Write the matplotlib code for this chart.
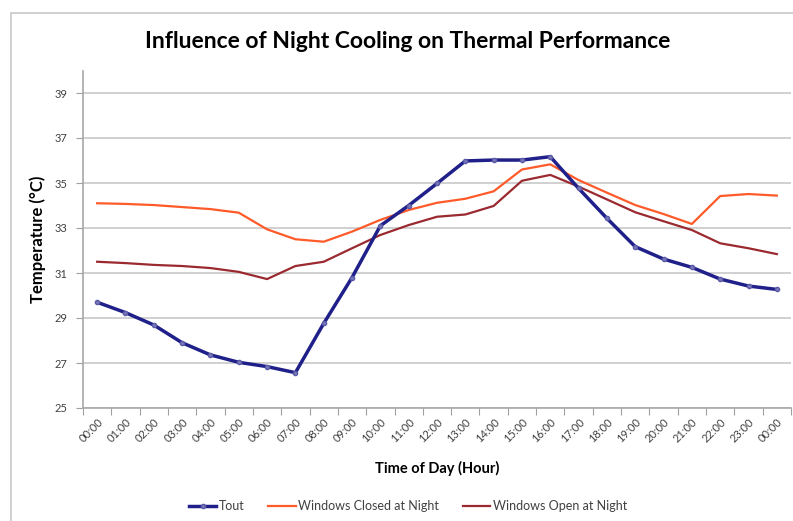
import matplotlib.pyplot as plt
import numpy as np
from matplotlib.patches import Rectangle

plt.rcParams['font.family'] = ['Lato', 'DejaVu Sans']

hours = ['00:00', '01:00', '02:00', '03:00', '04:00', '05:00', '06:00', '07:00',
         '08:00', '09:00', '10:00', '11:00', '12:00', '13:00', '14:00', '15:00',
         '16:00', '17:00', '18:00', '19:00', '20:00', '21:00', '22:00', '23:00', '00:00']

tout = [29.7, 29.24, 28.69, 27.9, 27.36, 27.03, 26.84, 26.57, 28.76, 30.8, 33.1,
        34.0, 34.98, 35.98, 36.02, 36.02, 36.17, 34.76, 33.43, 32.17, 31.62, 31.25,
        30.73, 30.42, 30.27]
win_closed = [34.1, 34.07, 34.02, 33.93, 33.84, 33.68, 32.94, 32.5, 32.39, 32.84,
              33.36, 33.8, 34.12, 34.3, 34.63, 35.6, 35.83, 35.13, 34.57, 34.02,
              33.62, 33.18, 34.42, 34.51, 34.44]
win_open = [31.5, 31.44, 31.36, 31.31, 31.22, 31.05, 30.73, 31.31, 31.5, 32.1,
            32.69, 33.13, 33.5, 33.6, 33.98, 35.1, 35.36, 34.84, 34.27, 33.7,
            33.3, 32.91, 32.32, 32.1, 31.84]

fig = plt.figure(figsize=(7.93, 5.21), dpi=100)
# chart area border (left/top visible)
fig.patches.append(Rectangle((11 / 793, -0.1), 1.2, 1 - 13 / 521 + 0.1,
                             transform=fig.transFigure, fill=False,
                             edgecolor='#c8c8c8', linewidth=1.2))

ax = fig.add_axes([83 / 793, 1 - 408 / 521, (791 - 83) / 793, (408 - 70.5) / 521])

x = np.arange(len(hours))
ax.plot(x, tout, color='#20208a', linewidth=2.5, marker='o', markersize=3,
        markerfacecolor='#7a7ab8', markeredgecolor='#5a5aa8', label='Tout', zorder=4)
ax.plot(x, win_closed, color='#ff5a2a', linewidth=1.6, label='Windows Closed at Night', zorder=3)
ax.plot(x, win_open, color='#9a2a30', linewidth=1.6, label='Windows Open at Night', zorder=3)

ax.set_xlim(-0.5, len(hours) - 0.5)
ax.set_ylim(25, 40)
ax.set_yticks(np.arange(25, 40, 2))
ax.yaxis.grid(True, color='#c8c8c8', linewidth=1.2)
ax.set_axisbelow(True)

ax.set_xticks(np.arange(-0.5, len(hours), 1.0))
ax.set_xticklabels([])
ax.set_xticks(x, minor=True)
ax.set_xticklabels(hours, minor=True, rotation=45, ha='right', va='top',
                   rotation_mode='anchor', fontsize=8, color='#404040')
ax.tick_params(axis='x', which='minor', length=0, pad=6)
ax.tick_params(axis='x', which='major', length=5, color='#a0a0a0')
ax.tick_params(axis='y', length=5, color='#a0a0a0', labelsize=8, labelcolor='#404040', pad=6)

for side in ['top', 'right']:
    ax.spines[side].set_visible(False)
for side in ['left', 'bottom']:
    ax.spines[side].set_color('#a8a8a8')
    ax.spines[side].set_linewidth(1.2)

ax.set_ylabel('Temperature (°C)', fontsize=12, fontweight='bold', labelpad=6)
ax.set_xlabel('Time of Day (Hour)', fontsize=10.5, fontweight='bold', labelpad=12)

fig.text(408 / 793, 1 - 42 / 521, 'Influence of Night Cooling on Thermal Performance',
         ha='center', va='center', fontsize=16.5, fontweight='bold')

fig.legend(loc='center', bbox_to_anchor=(408 / 793, 1 - 506 / 521), ncol=3,
           frameon=False, fontsize=9, handlelength=2.2, columnspacing=1.9,
           handletextpad=0.2, labelcolor='#404040')

fig.savefig('out.png', dpi=100)
